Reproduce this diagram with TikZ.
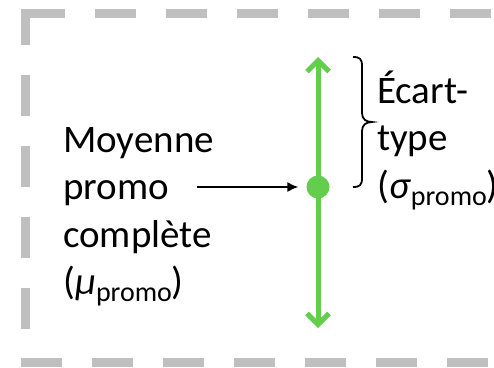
\documentclass[tikz,border=0pt]{standalone}
\usepackage{fontspec}
\setmainfont{Carlito}
\usetikzlibrary{arrows.meta}
\definecolor{framegray}{RGB}{191,191,191}
\definecolor{sdgreen}{RGB}{98,206,76}
\newcommand{\subpromo}{\raisebox{-7pt}{\fontsize{28}{28}\selectfont promo}}
\tikzset{
  lbl/.style={anchor=base west, inner sep=0pt, font=\fontsize{39}{47}\selectfont},
  frame/.style={draw=framegray, line width=9pt, line cap=rect, dash pattern=on 32pt off 39pt},
  spread/.style={draw=sdgreen, line width=5pt, -{Straight Barb[length=11pt,width=22pt]}},
}
\begin{document}
\begin{tikzpicture}[x=1pt,y=-1pt]
\useasboundingbox (0,0) rectangle (494,367);
% cadre en tirets
\draw[frame, dash phase=68pt] (25.5,13.5) -- (520,13.5);
\draw[frame, dash phase=5pt] (25.5,13.5) -- (25.5,362.5);
\draw[frame] (25.5,362.5) -- (520,362.5);

% moyenne et ecart-type
\node[circle, fill=sdgreen, minimum size=23pt, inner sep=0pt] (dot) at (318,187) {};
\coordinate (top) at (318,57);
\coordinate (bot) at (318,328);
\draw[spread] (dot.center) -- (top);
\draw[spread] (dot.center) -- (bot);

\foreach \txt [count=\i] in {Moyenne, promo, complète, {(\textit{μ}\subpromo)}} {
    \node[lbl] (moy\i) at (63,{152+47.5*(\i-1)}) {\txt};
}
\foreach \txt [count=\i] in {Écart-, type, {(\textit{σ}\subpromo)}} {
    \node[lbl] (ect\i) at (377,{103+47.5*(\i-1)}) {\txt};
}

% accolade
\draw[line width=1.8pt] (353,57) .. controls (360,57) and (362,59) .. (362,66) -- (362,113)
    .. controls (362,119) and (366,122) .. (372,122)
    .. controls (366,122) and (362,125) .. (362,131) -- (362,178)
    .. controls (362,185) and (360,187) .. (353,187);

\coordinate (src) at (197,187);
\draw[line width=1.5pt, -{Latex[length=11pt,width=10pt]}, shorten >=8pt] (src) -- (dot.west);
\end{tikzpicture}
\end{document}
